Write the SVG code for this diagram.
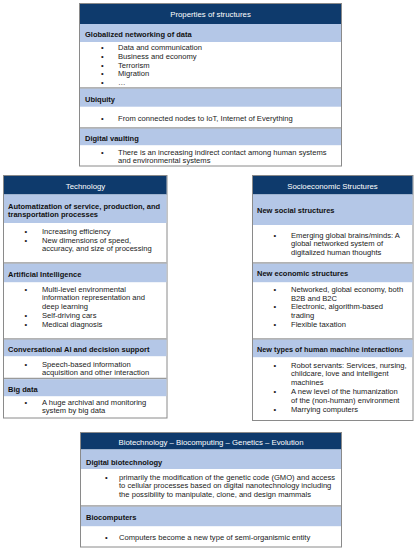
<svg xmlns="http://www.w3.org/2000/svg" width="416" height="550" viewBox="0 0 416 550">
<style>
.box{fill:#ffffff;stroke:#8a8a8a;stroke-width:1}
.hdr{fill:#0e3a6c}
.band{fill:#b4c7e7}
.sep{stroke:#9a9a9a;stroke-width:1.5}
.ht{font-family:"Liberation Sans",Arial,sans-serif;font-size:7.8px;fill:#ffffff;text-anchor:middle}
.lb{font-family:"Liberation Sans",Arial,sans-serif;font-size:7.5px;font-weight:bold;fill:#111111}
.tx{font-family:"Liberation Sans",Arial,sans-serif;font-size:7.6px;fill:#1a1a1a}
</style>
<rect width="416" height="550" fill="#ffffff"/>

<g id="properties">
<rect class="box" x="79.5" y="3.5" width="262" height="162.5"/>
<rect class="hdr" x="80" y="4" width="261" height="20"/>
<text class="ht" x="210.5" y="16.5">Properties of structures</text>
<rect class="band" x="80" y="24" width="261" height="18"/>
<text class="lb" x="85" y="36.5">Globalized networking of data</text>
<text class="tx" x="101" y="50.3">•</text><text class="tx" x="118" y="50.3">Data and communication</text>
<text class="tx" x="101" y="59">•</text><text class="tx" x="118" y="59">Business and economy</text>
<text class="tx" x="101" y="67.7">•</text><text class="tx" x="118" y="67.7">Terrorism</text>
<text class="tx" x="101" y="76.4">•</text><text class="tx" x="118" y="76.4">Migration</text>
<text class="tx" x="101" y="85.1">•</text><text class="tx" x="118" y="85.1">…</text>
<line class="sep" x1="80" y1="88" x2="341" y2="88"/>
<rect class="band" x="80" y="88.7" width="261" height="18"/>
<text class="lb" x="85" y="102.3">Ubiquity</text>
<text class="tx" x="101" y="120.8">•</text><text class="tx" x="118" y="120.8">From connected nodes to IoT, Internet of Everything</text>
<line class="sep" x1="80" y1="128" x2="341" y2="128"/>
<rect class="band" x="80" y="128.7" width="261" height="16.5"/>
<text class="lb" x="85" y="140.5">Digital vaulting</text>
<text class="tx" x="101" y="154.5">•</text><text class="tx" x="118" y="154.5">There is an increasing indirect contact among human systems</text>
<text class="tx" x="118" y="163">and environmental systems</text>
</g>

<g id="technology">
<rect class="box" x="3.5" y="175.5" width="163.5" height="242.5"/>
<rect class="hdr" x="4" y="176" width="162.5" height="18.5"/>
<text class="ht" x="85.5" y="188.5">Technology</text>
<rect class="band" x="4" y="194.5" width="162.5" height="28.5"/>
<text class="lb" x="8" y="208.5">Automatization of service, production, and</text>
<text class="lb" x="8" y="217.2">transportation processes</text>
<text class="tx" x="24.5" y="233.7">•</text><text class="tx" x="42" y="233.7">Increasing efficiency</text>
<text class="tx" x="24.5" y="242.5">•</text><text class="tx" x="42" y="242.5">New dimensions of speed,</text>
<text class="tx" x="42" y="251.2">accuracy, and size of processing</text>
<line class="sep" x1="4" y1="263" x2="166.5" y2="263"/>
<rect class="band" x="4" y="263.7" width="162.5" height="18.5"/>
<text class="lb" x="8" y="276.5">Artificial Intelligence</text>
<text class="tx" x="24.5" y="291.5">•</text><text class="tx" x="42" y="291.5">Multi-level environmental</text>
<text class="tx" x="42" y="300.4">information representation and</text>
<text class="tx" x="42" y="309.3">deep learning</text>
<text class="tx" x="24.5" y="318.1">•</text><text class="tx" x="42" y="318.1">Self-driving cars</text>
<text class="tx" x="24.5" y="326.9">•</text><text class="tx" x="42" y="326.9">Medical diagnosis</text>
<line class="sep" x1="4" y1="339" x2="166.5" y2="339"/>
<rect class="band" x="4" y="339.7" width="162.5" height="16.5"/>
<text class="lb" x="8" y="351.5">Conversational AI and decision support</text>
<text class="tx" x="24.5" y="366.7">•</text><text class="tx" x="42" y="366.7">Speech-based information</text>
<text class="tx" x="42" y="375.4">acquisition and other interaction</text>
<line class="sep" x1="4" y1="378.5" x2="166.5" y2="378.5"/>
<rect class="band" x="4" y="379.2" width="162.5" height="17"/>
<text class="lb" x="8" y="391.5">Big data</text>
<text class="tx" x="24.5" y="404.7">•</text><text class="tx" x="42" y="404.7">A huge archival and monitoring</text>
<text class="tx" x="42" y="413.4">system by big data</text>
</g>

<g id="socioeconomic">
<rect class="box" x="252.5" y="175.5" width="160.5" height="245"/>
<rect class="hdr" x="253" y="176" width="159.5" height="18.5"/>
<text class="ht" x="332.5" y="188.5">Socioeconomic Structures</text>
<rect class="band" x="253" y="194.5" width="159.5" height="30.5"/>
<text class="lb" x="257" y="212.5">New social structures</text>
<text class="tx" x="273.5" y="237.5">•</text><text class="tx" x="291" y="237.5">Emerging global brains/minds: A</text>
<text class="tx" x="291" y="246.2">global networked system of</text>
<text class="tx" x="291" y="255">digitalized human thoughts</text>
<line class="sep" x1="253" y1="263" x2="412.5" y2="263"/>
<rect class="band" x="253" y="263.7" width="159.5" height="18.5"/>
<text class="lb" x="257" y="275.5">New economic structures</text>
<text class="tx" x="273.5" y="291.8">•</text><text class="tx" x="291" y="291.8">Networked, global economy, both</text>
<text class="tx" x="291" y="300.6">B2B and B2C</text>
<text class="tx" x="273.5" y="309.4">•</text><text class="tx" x="291" y="309.4">Electronic, algorithm-based</text>
<text class="tx" x="291" y="318.1">trading</text>
<text class="tx" x="273.5" y="326.9">•</text><text class="tx" x="291" y="326.9">Flexible taxation</text>
<line class="sep" x1="253" y1="339" x2="412.5" y2="339"/>
<rect class="band" x="253" y="339.7" width="159.5" height="17.5"/>
<text class="lb" x="257" y="351.5" textLength="146" lengthAdjust="spacingAndGlyphs">New types of human machine interactions</text>
<text class="tx" x="273.5" y="367.5">•</text><text class="tx" x="291" y="367.5">Robot servants: Services, nursing,</text>
<text class="tx" x="291" y="376.2">childcare, love and intelligent</text>
<text class="tx" x="291" y="385">machines</text>
<text class="tx" x="273.5" y="394.3">•</text><text class="tx" x="291" y="394.3">A new level of the humanization</text>
<text class="tx" x="291" y="403.1">of the (non-human) environment</text>
<text class="tx" x="273.5" y="412">•</text><text class="tx" x="291" y="412">Marrying computers</text>
</g>

<g id="biotechnology">
<rect class="box" x="80.5" y="432.5" width="261" height="114.5"/>
<rect class="hdr" x="81" y="433" width="260" height="16.5"/>
<text class="ht" x="211" y="444.5">Biotechnology – Biocomputing – Genetics – Evolution</text>
<rect class="band" x="81" y="449.5" width="260" height="19.5"/>
<text class="lb" x="86" y="464.5">Digital biotechnology</text>
<text class="tx" x="105" y="479.7">•</text><text class="tx" x="119" y="479.7">primarily the modification of the genetic code (GMO) and access</text>
<text class="tx" x="119" y="488.4">to cellular processes based on digital nanotechnology including</text>
<text class="tx" x="119" y="497.1">the possibility to manipulate, clone, and design mammals</text>
<line class="sep" x1="81" y1="506" x2="341" y2="506"/>
<rect class="band" x="81" y="506.7" width="260" height="19.5"/>
<text class="lb" x="86" y="520">Biocomputers</text>
<text class="tx" x="105" y="540">•</text><text class="tx" x="119" y="540">Computers become a new type of semi-organismic entity</text>
</g>

<g id="connectors"></g>
</svg>
